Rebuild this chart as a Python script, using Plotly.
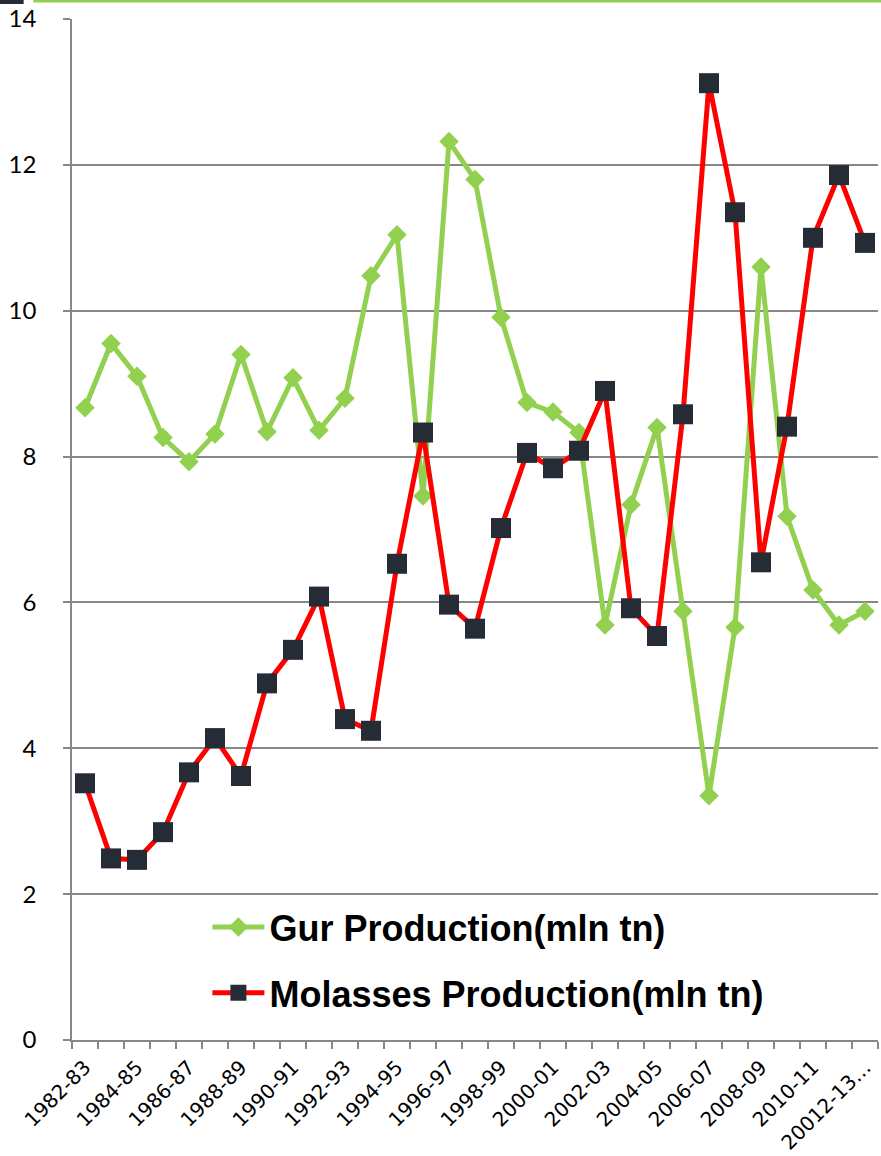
import plotly.graph_objects as go

categories = ["1982-83", "1983-84", "1984-85", "1985-86", "1986-87", "1987-88", "1988-89",
              "1989-90", "1990-91", "1991-92", "1992-93", "1993-94", "1994-95", "1995-96",
              "1996-97", "1997-98", "1998-99", "1999-00", "2000-01", "2001-02", "2002-03",
              "2003-04", "2004-05", "2005-06", "2006-07", "2007-08", "2008-09", "2009-10",
              "2010-11", "2011-12", "20012-13…"]

gur = [8.67, 9.55, 9.10, 8.26, 7.93, 8.31, 9.40, 8.34, 9.08, 8.36, 8.80, 10.48, 11.04, 7.46,
       12.32, 11.80, 9.91, 8.74, 8.61, 8.33, 5.69, 7.34, 8.40, 5.88, 3.35, 5.66, 10.60, 7.18,
       6.17, 5.69, 5.88]

molasses = [3.52, 2.49, 2.47, 2.85, 3.67, 4.14, 3.62, 4.89, 5.35, 6.08, 4.40, 4.24, 6.53, 8.33,
            5.97, 5.64, 7.02, 8.05, 7.84, 8.08, 8.90, 5.92, 5.54, 8.58, 13.12, 11.35, 6.55, 8.41,
            11.00, 11.86, 10.93]

tick_text = [c if i % 2 == 0 else "" for i, c in enumerate(categories)]

GREEN = "#92d050"
RED = "#ff0000"
DARK = "#262c36"
GRID = "#878787"

fig = go.Figure()
fig.add_trace(go.Scatter(
    x=categories, y=gur, mode="lines+markers", name="Gur Production(mln tn)",
    line=dict(color=GREEN, width=5),
    marker=dict(symbol="diamond", size=15, color=GREEN),
    legendgroup="g1", cliponaxis=False,
))
fig.add_trace(go.Scatter(
    x=categories, y=molasses, mode="lines+markers", name="Molasses Production(mln tn)",
    line=dict(color=RED, width=5),
    marker=dict(symbol="square", size=20, color=DARK),
    legendgroup="g2", cliponaxis=False,
))

fig.update_layout(
    width=881, height=1156,
    margin=dict(l=72, r=3, t=19, b=116),
    paper_bgcolor="white", plot_bgcolor="white",
    showlegend=True,
    legend=dict(
        x=0.168, y=0.14, xanchor="left", yanchor="top",
        font=dict(family="Liberation Sans", size=36, color="black", weight="bold"),
        bgcolor="rgba(255,255,255,0)", itemwidth=52, tracegroupgap=16,
    ),
    xaxis=dict(
        type="category", tickson="boundaries", automargin=False,
        tickmode="array", tickvals=categories, ticktext=tick_text,
        tickangle=-45, ticks="outside", ticklen=7, tickcolor=GRID, tickwidth=1.5,
        showline=True, linecolor=GRID, linewidth=1.5,
        showgrid=False, zeroline=False,
        tickfont=dict(family="DejaVu Sans", size=20, color="black"),
        ticklabelstandoff=6,
        range=[-0.5, 30.5],
    ),
    yaxis=dict(
        range=[0, 14], dtick=2, tick0=0, automargin=False,
        ticks="outside", ticklen=7, tickcolor=GRID, tickwidth=1.5,
        showline=True, linecolor=GRID, linewidth=1.5,
        showgrid=True, gridcolor=GRID, gridwidth=1.5, zeroline=False,
        tickfont=dict(family="Lato", size=24, color="black"),
        ticklabelstandoff=22,
    ),
    shapes=[
        dict(type="line", xref="paper", yref="paper", x0=-0.048, x1=1.004, y0=1.0176, y1=1.0176,
             line=dict(color=GREEN, width=3)),
        dict(type="rect", xref="paper", yref="paper", x0=-0.09, x1=-0.06, y0=1.0147, y1=1.02,
             line=dict(width=0), fillcolor=DARK),
    ],
)

fig.write_html("out.html", config={"displayModeBar": False},
               post_script="document.body.style.margin='0';")
